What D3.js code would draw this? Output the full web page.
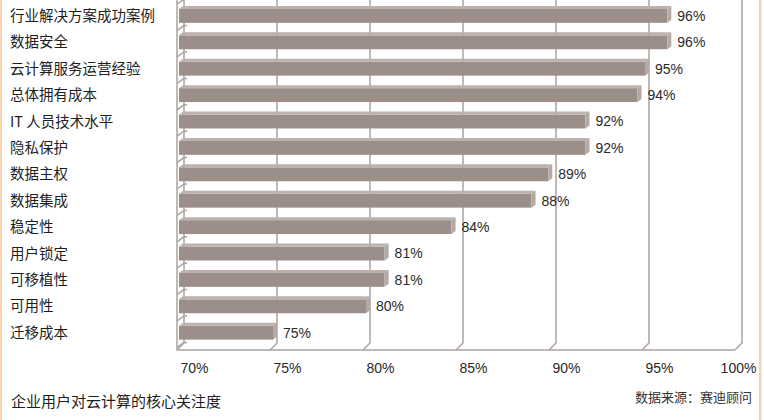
<!DOCTYPE html>
<html>
<head>
<meta charset="utf-8">
<script src="https://cdn.jsdelivr.net/npm/d3@7"></script>
<style>
  html, body { margin: 0; padding: 0; background: #fff; }
  svg { display: block; }
  .cat { font-family: "Noto Sans CJK SC", sans-serif; font-size: 14.5px; fill: #1e1e1e; }
  .val, .tick text { font-family: "Liberation Sans", Arial, sans-serif; font-size: 14px; fill: #2a2a2a; }
  .note { font-family: "Noto Sans CJK SC", sans-serif; fill: #1e1e1e; }
</style>
</head>
<body>
<svg id="chart" width="764" height="420"></svg>
<script>
// data
var categories = ["行业解决方案成功案例", "数据安全", "云计算服务运营经验", "总体拥有成本",
    "IT 人员技术水平", "隐私保护", "数据主权", "数据集成", "稳定性", "用户锁定",
    "可移植性", "可用性", "迁移成本"];
var values = [96.2, 96.2, 95.0, 94.6, 91.8, 91.8, 89.8, 88.9, 84.6, 81.0, 81.0, 80.0, 75.0];
var valueLabels = ["96%", "96%", "95%", "94%", "92%", "92%", "89%", "88%", "84%", "81%", "81%", "80%", "75%"];
var ticks = [70, 75, 80, 85, 90, 95, 100];
var title = "企业用户对云计算的核心关注度";
var source = "数据来源：赛迪顾问";

var WIDTH = 764, HEIGHT = 420;
var FLOOR_Y = 350;      // front edge of floor
var DEPTH = 7;          // 3d wall offset, px
var BAR_DX = 4, BAR_DY = 3;

var svg = d3.select("#chart");

var xFront = d3.scaleLinear().domain([70, 100]).range([177, 735]);
var xBack = function(v){ return xFront(v) + DEPTH; };

var y = d3.scaleBand()
    .domain(categories)
    .range([1.2, 344.4])
    .paddingInner(0.36)
    .paddingOuter(0.18);

var gridColor = "#aca4a0";

// orange frame
svg.append("rect").attr("x", 0).attr("y", 0).attr("width", 2).attr("height", HEIGHT).attr("fill", "#f9d3b2");
svg.append("rect").attr("x", 759).attr("y", 0).attr("width", 2.5).attr("height", HEIGHT).attr("fill", "#f9d3b2");

// back wall gridlines + floor corners
var grid = svg.append("g").attr("class", "grid")
    .attr("fill", "none").attr("stroke", gridColor).attr("stroke-width", 1.5);

grid.selectAll("path.vline")
    .data(ticks)
    .enter().append("path")
    .attr("class", "vline")
    .attr("d", function(d){
        return "M" + xBack(d) + ",0 L" + xBack(d) + "," + (FLOOR_Y - DEPTH) +
               " L" + xFront(d) + "," + FLOOR_Y;
    });

// left wall front edge and floor front edge
grid.append("path")
    .attr("d", "M" + xFront(70) + ",0 L" + xFront(70) + "," + FLOOR_Y + " L" + xFront(100) + "," + FLOOR_Y);

// little marks on the left wall between the bars
var step = y.step(), gap = step * y.paddingInner();
var marks = categories.map(function(c){ return y(c) - gap / 2; });
marks.push(y(categories[categories.length - 1]) + y.bandwidth() + gap / 2);
grid.selectAll("path.mark")
    .data(marks)
    .enter().append("path")
    .attr("class", "mark")
    .attr("d", function(d){
        return "M" + xFront(70) + "," + (d + 3) + " L" + (xBack(70)) + "," + (d - 2) +
               " L" + (xBack(70) + 3) + "," + (d - 2);
    });

// bars
var bars = svg.append("g").attr("class", "bars")
    .selectAll("g")
    .data(categories)
    .enter().append("g");

bars.each(function(cat, i){
    var g = d3.select(this);
    var x0 = xFront(70) + 2;
    var xe = xBack(values[i]) - BAR_DX;
    var yt = y(cat);
    var h = y.bandwidth();

    g.append("rect")
        .attr("x", x0)
        .attr("y", yt + BAR_DY)
        .attr("width", xe - x0)
        .attr("height", h - BAR_DY)
        .attr("fill", "#9c8f8a");

    g.append("path")
        .attr("d", "M" + x0 + "," + (yt + BAR_DY) + " L" + xe + "," + (yt + BAR_DY) +
                   " L" + (xe + BAR_DX) + "," + yt + " L" + (x0 + BAR_DX) + "," + yt + "Z")
        .attr("fill", "#bcb2ae");

    g.append("path")
        .attr("d", "M" + xe + "," + (yt + BAR_DY) + " L" + (xe + BAR_DX) + "," + yt +
                   " L" + (xe + BAR_DX) + "," + (yt + h - BAR_DY) + " L" + xe + "," + (yt + h) + "Z")
        .attr("fill", "#b3a9a5");

    g.append("text")
        .attr("class", "val")
        .attr("x", xBack(values[i]) + 6)
        .attr("y", yt + h / 2 + 1.5)
        .attr("dy", "0.35em")
        .text(valueLabels[i]);
});

// category labels
svg.append("g").selectAll("text")
    .data(categories)
    .enter().append("text")
    .attr("class", "cat")
    .attr("x", 10)
    .attr("y", function(d){ return y(d) + y.bandwidth() / 2 + 1.5; })
    .attr("dy", "0.35em")
    .text(function(d){ return d; });

// x axis labels
var xAxis = d3.axisBottom(d3.scaleLinear().domain([70, 100]).range([xBack(70), xBack(100)]))
    .tickValues(ticks)
    .tickSize(0)
    .tickFormat(function(d){ return d + "%"; });

var axisG = svg.append("g")
    .attr("transform", "translate(0," + FLOOR_Y + ")")
    .call(xAxis);
axisG.select(".domain").remove();
axisG.selectAll("text")
    .attr("y", 18)
    .attr("dy", "0.35em")
    .attr("dx", function(d){ return d === 100 ? -4 : 10; })
    .attr("fill", null);

// footer
svg.append("text").attr("class", "note")
    .attr("x", 11).attr("y", 402).attr("dy", "0.35em")
    .style("font-size", "15px")
    .text(title);
svg.append("text").attr("class", "note")
    .attr("x", 752).attr("y", 397).attr("dy", "0.35em")
    .attr("text-anchor", "end")
    .style("font-size", "13px")
    .style("fill", "#333")
    .text(source);
</script>
</body>
</html>
